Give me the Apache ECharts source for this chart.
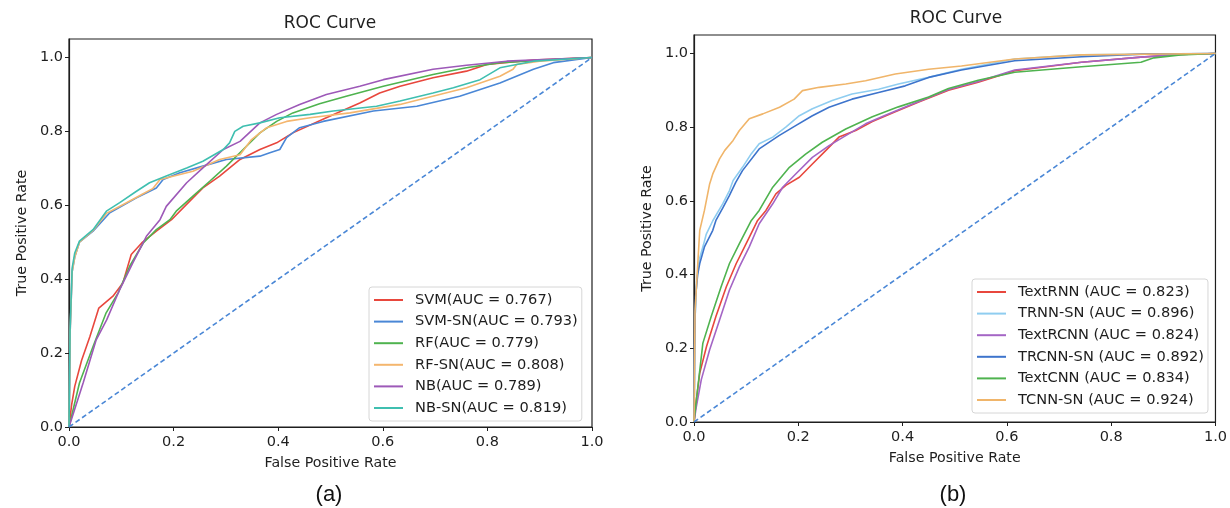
<!DOCTYPE html>
<html>
<head>
<meta charset="utf-8">
<title>ROC Curve</title>
<script src="https://cdn.jsdelivr.net/npm/echarts@6/dist/echarts.min.js"></script>
<style>
  html, body { margin: 0; padding: 0; background: #fff; }
  #chart { width: 1230px; height: 508px; }
</style>
</head>
<body>
<div id="chart"></div>
<script>
// tick labels shared by both panels
const ticks = [0, 0.2, 0.4, 0.6, 0.8, 1.0]
const diagonal = [[0, 0], [1, 1]]

// panel (a)
const namesA = ['SVM(AUC = 0.767)', 'SVM-SN(AUC = 0.793)', 'RF(AUC = 0.779)', 'RF-SN(AUC = 0.808)', 'NB(AUC = 0.789)', 'NB-SN(AUC = 0.819)']
const svm = [[0,0],[0.005,0.06],[0.011,0.11],[0.024,0.18],[0.04,0.245],[0.057,0.322],[0.084,0.354],[0.103,0.39],[0.119,0.467],[0.139,0.498],[0.167,0.53],[0.196,0.561],[0.237,0.62],[0.256,0.647],[0.288,0.679],[0.327,0.724],[0.365,0.751],[0.397,0.769],[0.428,0.796],[0.492,0.837],[0.556,0.877],[0.594,0.904],[0.633,0.922],[0.696,0.945],[0.76,0.963],[0.799,0.981],[0.888,0.993],[1,1]]
const svmSn = [[0,0],[0.001,0.12],[0.002,0.25],[0.006,0.42],[0.011,0.46],[0.02,0.5],[0.046,0.53],[0.078,0.58],[0.129,0.62],[0.167,0.647],[0.18,0.67],[0.212,0.688],[0.256,0.706],[0.301,0.724],[0.365,0.733],[0.384,0.742],[0.403,0.751],[0.416,0.783],[0.441,0.81],[0.486,0.827],[0.582,0.855],[0.665,0.868],[0.747,0.895],[0.824,0.931],[0.888,0.968],[0.926,0.986],[1,1]]
const rf = [[0,0],[0.02,0.119],[0.046,0.218],[0.071,0.309],[0.094,0.363],[0.116,0.435],[0.142,0.498],[0.167,0.534],[0.193,0.561],[0.205,0.584],[0.237,0.625],[0.269,0.665],[0.301,0.706],[0.333,0.751],[0.365,0.796],[0.397,0.827],[0.428,0.85],[0.479,0.875],[0.53,0.895],[0.601,0.922],[0.696,0.954],[0.76,0.972],[0.824,0.986],[1,1]]
const rfSn = [[0,0],[0.001,0.12],[0.002,0.25],[0.006,0.42],[0.011,0.46],[0.02,0.5],[0.046,0.532],[0.0715,0.578],[0.11,0.607],[0.14,0.63],[0.16,0.645],[0.174,0.67],[0.237,0.692],[0.288,0.724],[0.327,0.737],[0.349,0.778],[0.378,0.81],[0.416,0.827],[0.461,0.837],[0.537,0.85],[0.633,0.873],[0.684,0.891],[0.76,0.918],[0.824,0.949],[0.849,0.968],[0.856,0.981],[0.9,0.99],[1,1]]
const nb = [[0,0],[0.027,0.119],[0.052,0.236],[0.072,0.29],[0.097,0.372],[0.122,0.444],[0.148,0.516],[0.174,0.561],[0.186,0.597],[0.225,0.661],[0.256,0.701],[0.295,0.751],[0.327,0.773],[0.365,0.823],[0.397,0.846],[0.441,0.873],[0.492,0.9],[0.556,0.922],[0.601,0.94],[0.696,0.968],[0.76,0.979],[0.837,0.99],[1,1]]
const nbSn = [[0,0],[0.001,0.12],[0.002,0.26],[0.006,0.43],[0.011,0.471],[0.02,0.503],[0.046,0.534],[0.0715,0.584],[0.097,0.607],[0.129,0.638],[0.154,0.661],[0.186,0.679],[0.225,0.701],[0.256,0.719],[0.295,0.751],[0.307,0.769],[0.317,0.8],[0.333,0.814],[0.365,0.823],[0.403,0.837],[0.461,0.846],[0.505,0.855],[0.588,0.868],[0.633,0.882],[0.696,0.904],[0.735,0.918],[0.786,0.94],[0.824,0.972],[0.888,0.99],[1,1]]

// panel (b)
const namesB = ['TextRNN (AUC = 0.823)', 'TRNN-SN (AUC = 0.896)', 'TextRCNN (AUC = 0.824)', 'TRCNN-SN (AUC = 0.892)', 'TextCNN (AUC = 0.834)', 'TCNN-SN (AUC = 0.924)']
const textRnn = [[0,0],[0.0045,0.06],[0.011,0.133],[0.024,0.205],[0.042,0.286],[0.062,0.367],[0.081,0.43],[0.1,0.484],[0.122,0.547],[0.138,0.574],[0.157,0.619],[0.176,0.642],[0.202,0.664],[0.227,0.7],[0.253,0.737],[0.278,0.773],[0.31,0.791],[0.342,0.815],[0.386,0.842],[0.431,0.868],[0.488,0.9],[0.545,0.922],[0.615,0.953],[0.743,0.976],[0.857,0.99],[0.933,0.997],[1,1]]
const trnnSn = [[0,0],[0.001,0.15],[0.002,0.28],[0.005,0.38],[0.01,0.44],[0.018,0.48],[0.0236,0.51],[0.036,0.546],[0.055,0.592],[0.068,0.628],[0.075,0.655],[0.093,0.691],[0.11,0.728],[0.125,0.755],[0.151,0.773],[0.176,0.8],[0.202,0.831],[0.227,0.85],[0.265,0.872],[0.303,0.89],[0.354,0.903],[0.392,0.917],[0.45,0.935],[0.513,0.957],[0.615,0.985],[0.743,0.996],[1,1]]
const textRcnn = [[0,0],[0.0045,0.042],[0.014,0.115],[0.03,0.196],[0.049,0.277],[0.068,0.358],[0.087,0.421],[0.106,0.475],[0.125,0.538],[0.151,0.592],[0.17,0.637],[0.195,0.673],[0.227,0.718],[0.259,0.75],[0.291,0.777],[0.329,0.809],[0.367,0.832],[0.418,0.862],[0.488,0.902],[0.545,0.924],[0.615,0.955],[0.743,0.976],[0.857,0.99],[0.933,0.997],[1,1]]
const trcnnSn = [[0,0],[0.001,0.2],[0.003,0.34],[0.007,0.4],[0.011,0.43],[0.02,0.475],[0.036,0.52],[0.042,0.547],[0.055,0.58],[0.068,0.615],[0.08,0.65],[0.093,0.682],[0.125,0.741],[0.163,0.777],[0.195,0.804],[0.227,0.831],[0.259,0.854],[0.303,0.876],[0.354,0.894],[0.405,0.912],[0.45,0.935],[0.513,0.955],[0.615,0.98],[0.743,0.991],[0.857,0.998],[1,1]]
const textCnn = [[0,0],[0.001,0.015],[0.0076,0.097],[0.017,0.214],[0.033,0.286],[0.052,0.367],[0.068,0.43],[0.087,0.484],[0.11,0.547],[0.125,0.574],[0.151,0.637],[0.183,0.691],[0.214,0.727],[0.246,0.759],[0.291,0.795],[0.342,0.828],[0.392,0.855],[0.45,0.882],[0.488,0.905],[0.545,0.927],[0.615,0.949],[0.743,0.964],[0.857,0.976],[0.882,0.988],[0.933,0.996],[1,1]]
const tcnnSn = [[0,0],[0.001,0.15],[0.002,0.3],[0.006,0.4],[0.011,0.52],[0.02,0.574],[0.03,0.646],[0.036,0.673],[0.049,0.714],[0.059,0.737],[0.075,0.764],[0.087,0.791],[0.106,0.823],[0.132,0.836],[0.164,0.854],[0.192,0.876],[0.208,0.899],[0.24,0.908],[0.291,0.917],[0.329,0.926],[0.386,0.944],[0.45,0.957],[0.513,0.966],[0.615,0.985],[0.743,0.996],[1,1]]

const colorsA = ['#e8473d', '#4a87d6', '#4fb34f', '#f4b66e', '#9d59b8', '#3fbfb0']
const colorsB = ['#e8473d', '#8fcdf0', '#a465c5', '#3d74cc', '#4fb34f', '#f0b56a']

const font = 'DejaVu Sans'
const ink = '#1e1e1e'

function xAxisFor(gridIndex) {
  return {
    type: 'value', gridIndex: gridIndex, min: 0, max: 1,
    name: 'False Positive Rate', nameLocation: 'middle', nameGap: 29,
    nameTextStyle: { fontFamily: font, fontSize: 14.2, color: ink },
    axisLine: { show: true, lineStyle: { color: ink, width: 1.2 } },
    axisTick: { show: true, length: 4, customValues: ticks, lineStyle: { color: ink } },
    axisLabel: { customValues: ticks, margin: 8, fontFamily: font, fontSize: 14.5, color: ink, formatter: v => v.toFixed(1) },
    splitLine: { show: false }
  }
}
function yAxisFor(gridIndex) {
  return {
    type: 'value', gridIndex: gridIndex, min: 0, max: 1.05,
    name: 'True Positive Rate', nameLocation: 'middle', nameGap: 40,
    nameTextStyle: { fontFamily: font, fontSize: 14.2, color: ink },
    axisLine: { show: true, lineStyle: { color: ink, width: 1.2 } },
    axisTick: { show: true, length: 4, customValues: ticks, lineStyle: { color: ink } },
    axisLabel: { customValues: ticks, margin: 6, fontFamily: font, fontSize: 14.5, color: ink, formatter: v => v.toFixed(1) },
    splitLine: { show: false }
  }
}
function curve(name, data, color, idx) {
  return {
    name: name, type: 'line', xAxisIndex: idx, yAxisIndex: idx, data: data,
    showSymbol: false, symbol: 'none', color: color,
    lineStyle: { color: color, width: 1.6 }
  }
}
function diag(idx) {
  return {
    name: 'chance', type: 'line', xAxisIndex: idx, yAxisIndex: idx, data: diagonal,
    showSymbol: false, symbol: 'none', color: '#4a87d6',
    lineStyle: { color: '#4a87d6', width: 1.6, type: [5, 3] }
  }
}
function legendFor(names, left, top) {
  return {
    data: names, orient: 'vertical', left: left, top: top,
    icon: 'rect', itemWidth: 29, itemHeight: 2, itemGap: 5.6,
    padding: [5, 4, 5, 5],
    backgroundColor: 'rgba(255,255,255,0.85)', borderColor: '#d6d6d6', borderWidth: 1, borderRadius: 3,
    textStyle: { fontFamily: font, fontSize: 14.6, color: ink, lineHeight: 16, padding: [0, 0, 0, 7] }
  }
}

const seriesA = [svm, svmSn, rf, rfSn, nb, nbSn]
const seriesB = [textRnn, trnnSn, textRcnn, trcnnSn, textCnn, tcnnSn]

const chart = echarts.init(document.getElementById('chart'), null, { renderer: 'canvas' })
chart.setOption({
  animation: false,
  backgroundColor: '#fff',
  grid: [
    { left: 69, top: 39, width: 523, height: 388, show: true, borderColor: ink, borderWidth: 1.2, backgroundColor: 'transparent' },
    { left: 694, top: 35, width: 524, height: 387, show: true, borderColor: ink, borderWidth: 1.2, backgroundColor: 'transparent' }
  ],
  xAxis: [xAxisFor(0), xAxisFor(1)],
  yAxis: [yAxisFor(0), yAxisFor(1)],
  legend: [legendFor(namesA, 369, 287), legendFor(namesB, 972, 279)],
  series: [
    ...seriesA.map((d, i) => curve(namesA[i], d, colorsA[i], 0)),
    diag(0),
    ...seriesB.map((d, i) => curve(namesB[i], d, colorsB[i], 1)),
    diag(1)
  ],
  graphic: [
    { type: 'text', x: 330, y: 24, style: { text: 'ROC Curve', fontFamily: font, fontSize: 17, fill: ink, align: 'center', verticalAlign: 'middle' } },
    { type: 'text', x: 956, y: 19, style: { text: 'ROC Curve', fontFamily: font, fontSize: 17, fill: ink, align: 'center', verticalAlign: 'middle' } },
    { type: 'text', x: 329, y: 495, style: { text: '(a)', fontFamily: 'Liberation Sans', fontSize: 22, fill: '#111', align: 'center', verticalAlign: 'middle' } },
    { type: 'text', x: 953, y: 495, style: { text: '(b)', fontFamily: 'Liberation Sans', fontSize: 22, fill: '#111', align: 'center', verticalAlign: 'middle' } }
  ]
})
</script>
</body>
</html>
